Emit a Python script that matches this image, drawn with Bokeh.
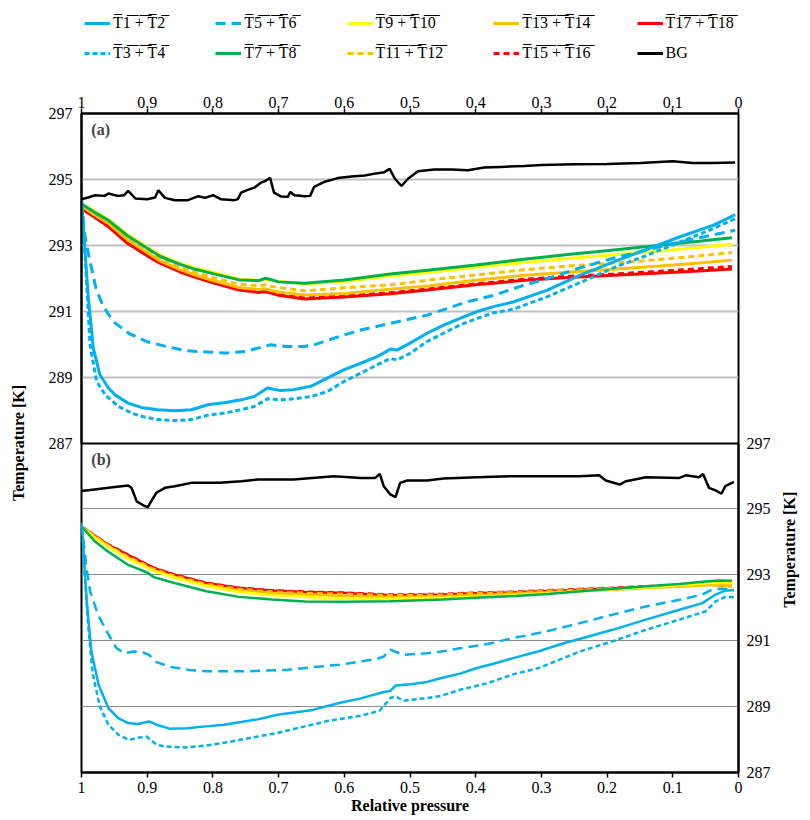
import math
from bokeh.plotting import figure
from bokeh.models import (Range1d, FixedTicker, NumeralTickFormatter, Legend, LegendItem,
                          Label, LinearAxis, Grid, CustomJSTickFormatter)
from bokeh.layouts import column
from bokeh.embed import file_html
from bokeh.resources import INLINE

# ---------------- data ----------------
X_TICKS = [1.0, 0.9, 0.8, 0.7, 0.6, 0.5, 0.4, 0.3, 0.2, 0.1, 0.0]
Y_TICKS = [287, 289, 291, 293, 295, 297]
SERIES = ["T1 + T2", "T3 + T4", "T5 + T6", "T7 + T8", "T9 + T10",
          "T11 + T12", "T13 + T14", "T15 + T16", "T17 + T18", "BG"]
PANELS = ["(a)", "(b)"]
Y_TITLE = "Temperature [K]"
X_TITLE = "Relative pressure"

# panel (a)
A_T12_X = [1.0, 0.997, 0.990, 0.982, 0.972, 0.959, 0.949, 0.929, 0.909, 0.884, 0.858, 0.833, 0.808, 0.783,
           0.757, 0.737, 0.717, 0.697, 0.677, 0.651, 0.626, 0.601, 0.575, 0.550, 0.530, 0.520, 0.500, 0.474,
           0.449, 0.424, 0.398, 0.373, 0.343, 0.291, 0.240, 0.190, 0.139, 0.089, 0.038, 0.005]
A_T12_Y = [294.37, 293.51, 291.49, 289.88, 289.07, 288.67, 288.46, 288.21, 288.08, 288.01, 287.98, 288.01,
           288.16, 288.22, 288.31, 288.41, 288.67, 288.59, 288.62, 288.72, 288.97, 289.22, 289.42, 289.62,
           289.85, 289.82, 290.03, 290.33, 290.58, 290.78, 290.99, 291.14, 291.28, 291.64, 292.10, 292.50,
           292.88, 293.26, 293.61, 293.93]
A_T34_X = [1.0, 0.994, 0.987, 0.977, 0.964, 0.944, 0.924, 0.909, 0.884, 0.858, 0.833, 0.808, 0.783, 0.757,
           0.737, 0.717, 0.697, 0.677, 0.651, 0.626, 0.601, 0.575, 0.550, 0.530, 0.520, 0.500, 0.474, 0.449,
           0.424, 0.398, 0.373, 0.343, 0.291, 0.240, 0.190, 0.139, 0.089, 0.038, 0.005]
A_T34_Y = [294.37, 292.50, 289.98, 288.87, 288.46, 288.11, 287.91, 287.81, 287.71, 287.68, 287.71, 287.84,
           287.91, 288.01, 288.11, 288.34, 288.31, 288.34, 288.41, 288.56, 288.86, 289.12, 289.37, 289.57,
           289.52, 289.72, 290.08, 290.33, 290.58, 290.78, 290.95, 291.06, 291.44, 291.88, 292.32, 292.70,
           293.10, 293.51, 293.81]
A_T56_X = [1.0, 0.995, 0.987, 0.978, 0.968, 0.952, 0.928, 0.901, 0.871, 0.841, 0.808, 0.780, 0.750, 0.722,
           0.712, 0.689, 0.661, 0.646, 0.616, 0.575, 0.530, 0.474, 0.444, 0.414, 0.373, 0.328, 0.291, 0.242,
           0.192, 0.141, 0.090, 0.040, 0.005]
A_T56_Y = [294.37, 293.30, 292.50, 291.70, 291.19, 290.69, 290.33, 290.08, 289.93, 289.80, 289.76, 289.73,
           289.78, 289.93, 289.98, 289.93, 289.93, 289.98, 290.18, 290.43, 290.63, 290.88, 291.08, 291.28,
           291.48, 291.78, 291.99, 292.31, 292.60, 292.85, 293.10, 293.31, 293.46]
A_WARM_X = [1.00, 0.98, 0.96, 0.93, 0.90, 0.88, 0.85, 0.83, 0.80, 0.76, 0.73, 0.72, 0.71, 0.70, 0.66,
            0.60, 0.53, 0.47, 0.40, 0.33, 0.26, 0.19, 0.12, 0.06, 0.01]
A_T78_Y = [294.25, 294.00, 293.77, 293.29, 292.91, 292.66, 292.42, 292.29, 292.14, 291.95, 291.93, 292.00,
           291.95, 291.89, 291.85, 291.95, 292.13, 292.25, 292.40, 292.57, 292.72, 292.86, 293.00, 293.12, 293.23]
A_T910_Y = [294.27, 294.03, 293.80, 293.33, 292.95, 292.70, 292.45, 292.33, 292.18, 291.98, 291.93, 291.96,
            291.93, 291.90, 291.83, 291.90, 292.07, 292.18, 292.33, 292.47, 292.60, 292.71, 292.83, 292.93, 293.03]
A_T1112_Y = [294.22, 293.95, 293.72, 293.22, 292.84, 292.58, 292.33, 292.20, 292.02, 291.82, 291.77, 291.80,
             291.75, 291.72, 291.62, 291.71, 291.80, 291.95, 292.10, 292.25, 292.37, 292.46, 292.57, 292.68, 292.78]
A_T1314_Y = [294.20, 293.92, 293.68, 293.17, 292.78, 292.52, 292.26, 292.12, 291.93, 291.72, 291.66, 291.68,
             291.62, 291.58, 291.49, 291.54, 291.67, 291.77, 291.94, 292.08, 292.18, 292.27, 292.37, 292.46, 292.55]
A_T1516_Y = [294.13, 293.88, 293.62, 293.10, 292.72, 292.48, 292.22, 292.08, 291.90, 291.68, 291.60, 291.62,
             291.57, 291.51, 291.40, 291.46, 291.56, 291.68, 291.83, 291.96, 292.06, 292.13, 292.21, 292.29, 292.36]
A_T1718_Y = [294.11, 293.85, 293.58, 293.06, 292.68, 292.45, 292.19, 292.05, 291.86, 291.64, 291.57, 291.59,
             291.54, 291.48, 291.37, 291.43, 291.53, 291.65, 291.80, 291.93, 292.02, 292.09, 292.16, 292.22, 292.28]
A_BG_X = [1.0, 0.990, 0.979, 0.965, 0.959, 0.945, 0.935, 0.929, 0.918, 0.900, 0.888, 0.883, 0.873, 0.858,
          0.838, 0.822, 0.812, 0.800, 0.788, 0.767, 0.762, 0.757, 0.747, 0.737, 0.727, 0.720, 0.713, 0.707,
          0.696, 0.686, 0.682, 0.676, 0.660, 0.652, 0.646, 0.631, 0.610, 0.589, 0.569, 0.549, 0.539, 0.531,
          0.523, 0.513, 0.503, 0.488, 0.463, 0.437, 0.412, 0.387, 0.362, 0.326, 0.300, 0.250, 0.200, 0.150,
          0.100, 0.070, 0.040, 0.005]
A_BG_Y = [294.40, 294.45, 294.52, 294.50, 294.57, 294.50, 294.52, 294.65, 294.42, 294.40, 294.45, 294.67,
          294.44, 294.37, 294.37, 294.49, 294.44, 294.52, 294.40, 294.37, 294.40, 294.60, 294.68, 294.75,
          294.90, 294.95, 295.05, 294.60, 294.48, 294.47, 294.62, 294.52, 294.49, 294.50, 294.77, 294.92,
          295.04, 295.09, 295.12, 295.19, 295.22, 295.32, 295.02, 294.80, 295.02, 295.25, 295.30, 295.30,
          295.28, 295.36, 295.38, 295.41, 295.44, 295.46, 295.47, 295.50, 295.55, 295.50, 295.50, 295.51]

# panel (b)
B_T12_X = [1.0, 0.997, 0.992, 0.985, 0.974, 0.959, 0.944, 0.929, 0.914, 0.901, 0.897, 0.886, 0.866, 0.840,
           0.811, 0.783, 0.757, 0.730, 0.702, 0.648, 0.608, 0.575, 0.546, 0.530, 0.522, 0.499, 0.474, 0.452,
           0.424, 0.398, 0.373, 0.343, 0.304, 0.265, 0.242, 0.192, 0.141, 0.090, 0.055, 0.035, 0.020, 0.007]
B_T12_Y = [294.58, 293.72, 292.19, 290.67, 289.66, 288.95, 288.65, 288.50, 288.47, 288.53, 288.55, 288.45,
           288.33, 288.34, 288.40, 288.45, 288.53, 288.62, 288.75, 288.90, 289.11, 289.25, 289.41, 289.48,
           289.64, 289.68, 289.75, 289.87, 290.00, 290.17, 290.30, 290.47, 290.68, 290.93, 291.05, 291.33,
           291.64, 291.94, 292.14, 292.40, 292.52, 292.53]
B_T34_X = [1.0, 0.995, 0.990, 0.983, 0.972, 0.959, 0.944, 0.928, 0.915, 0.901, 0.886, 0.874, 0.842, 0.810,
           0.772, 0.740, 0.702, 0.660, 0.624, 0.575, 0.546, 0.530, 0.522, 0.510, 0.474, 0.452, 0.424, 0.382,
           0.343, 0.304, 0.242, 0.192, 0.141, 0.090, 0.050, 0.035, 0.020, 0.007]
B_T34_Y = [294.58, 293.00, 291.50, 290.00, 289.00, 288.45, 288.15, 287.99, 288.05, 288.09, 287.85, 287.79,
           287.76, 287.82, 287.94, 288.06, 288.20, 288.40, 288.57, 288.72, 288.88, 289.26, 289.31, 289.18,
           289.26, 289.33, 289.51, 289.71, 289.98, 290.17, 290.67, 290.98, 291.33, 291.64, 291.89, 292.19,
           292.33, 292.33]
B_T56_X = [1.0, 0.993, 0.987, 0.975, 0.963, 0.947, 0.935, 0.921, 0.907, 0.897, 0.886, 0.866, 0.836, 0.810,
           0.749, 0.686, 0.646, 0.608, 0.550, 0.540, 0.530, 0.510, 0.474, 0.452, 0.424, 0.382, 0.343, 0.293,
           0.242, 0.192, 0.141, 0.090, 0.055, 0.040, 0.025, 0.007]
B_T56_Y = [294.58, 293.30, 292.50, 291.80, 291.33, 290.78, 290.62, 290.67, 290.65, 290.57, 290.35, 290.21,
           290.11, 290.07, 290.07, 290.12, 290.20, 290.27, 290.45, 290.52, 290.73, 290.57, 290.62, 290.67,
           290.77, 290.90, 291.08, 291.28, 291.53, 291.79, 292.04, 292.24, 292.40, 292.55, 292.58, 292.56]
B_WARM_X = [1.00, 0.98, 0.96, 0.93, 0.90, 0.89, 0.86, 0.81, 0.76, 0.71, 0.66, 0.60, 0.53, 0.45, 0.40,
            0.34, 0.29, 0.24, 0.19, 0.14, 0.09, 0.05, 0.03, 0.01]
B_T78_Y = [294.47, 294.02, 293.71, 293.31, 293.07, 292.93, 292.76, 292.50, 292.33, 292.25, 292.19, 292.18,
           292.20, 292.25, 292.30, 292.36, 292.42, 292.50, 292.58, 292.65, 292.72, 292.80, 292.83, 292.82]
B_T910_Y = [294.47, 294.12, 293.87, 293.50, 293.22, 293.12, 292.92, 292.66, 292.48, 292.38, 292.33, 292.28,
            292.27, 292.30, 292.33, 292.38, 292.44, 292.50, 292.56, 292.62, 292.68, 292.74, 292.76, 292.74]
B_T1112_Y = [294.47, 294.18, 293.90, 293.56, 293.28, 293.18, 292.98, 292.72, 292.57, 292.49, 292.45, 292.42,
             292.38, 292.40, 292.44, 292.47, 292.51, 292.55, 292.59, 292.63, 292.67, 292.71, 292.72, 292.70]
B_T1314_Y = [294.47, 294.16, 293.88, 293.52, 293.22, 293.14, 292.94, 292.68, 292.52, 292.44, 292.40, 292.36,
             292.33, 292.35, 292.39, 292.43, 292.47, 292.51, 292.55, 292.60, 292.64, 292.68, 292.68, 292.66]
B_T1516_Y = [294.47, 294.20, 293.93, 293.62, 293.32, 293.22, 293.02, 292.76, 292.61, 292.53, 292.49, 292.46,
             292.40, 292.42, 292.46, 292.49, 292.53, 292.57, 292.61, 292.65, 292.69, 292.73, 292.70, 292.68]
B_T1718_Y = [294.47, 294.19, 293.92, 293.61, 293.31, 293.21, 293.01, 292.75, 292.60, 292.52, 292.48, 292.45,
             292.38, 292.40, 292.44, 292.47, 292.51, 292.55, 292.59, 292.63, 292.67, 292.72, 292.68, 292.65]
B_BG_X = [1.0, 0.980, 0.959, 0.929, 0.924, 0.916, 0.906, 0.899, 0.894, 0.886, 0.873, 0.858, 0.833, 0.790,
          0.757, 0.732, 0.700, 0.677, 0.616, 0.575, 0.553, 0.546, 0.540, 0.530, 0.522, 0.515, 0.505, 0.474,
          0.449, 0.398, 0.348, 0.293, 0.242, 0.212, 0.202, 0.181, 0.171, 0.141, 0.090, 0.080, 0.060, 0.054,
          0.045, 0.035, 0.026, 0.020, 0.007]
B_BG_Y = [295.54, 295.59, 295.64, 295.71, 295.64, 295.23, 295.11, 295.05, 295.23, 295.49, 295.64, 295.69,
          295.79, 295.79, 295.84, 295.89, 295.89, 295.89, 295.99, 295.94, 295.94, 296.06, 295.69, 295.44,
          295.36, 295.79, 295.86, 295.86, 295.92, 295.96, 295.99, 295.99, 295.99, 296.02, 295.86, 295.74,
          295.84, 295.96, 295.94, 296.02, 295.96, 296.06, 295.64, 295.56, 295.46, 295.69, 295.82]

PANEL_A = {
    "T1 + T2": (A_T12_X, A_T12_Y), "T3 + T4": (A_T34_X, A_T34_Y), "T5 + T6": (A_T56_X, A_T56_Y),
    "T7 + T8": (A_WARM_X, A_T78_Y), "T9 + T10": (A_WARM_X, A_T910_Y), "T11 + T12": (A_WARM_X, A_T1112_Y),
    "T13 + T14": (A_WARM_X, A_T1314_Y), "T15 + T16": (A_WARM_X, A_T1516_Y),
    "T17 + T18": (A_WARM_X, A_T1718_Y), "BG": (A_BG_X, A_BG_Y),
}
PANEL_B = {
    "T1 + T2": (B_T12_X, B_T12_Y), "T3 + T4": (B_T34_X, B_T34_Y), "T5 + T6": (B_T56_X, B_T56_Y),
    "T7 + T8": (B_WARM_X, B_T78_Y), "T9 + T10": (B_WARM_X, B_T910_Y), "T11 + T12": (B_WARM_X, B_T1112_Y),
    "T13 + T14": (B_WARM_X, B_T1314_Y), "T15 + T16": (B_WARM_X, B_T1516_Y),
    "T17 + T18": (B_WARM_X, B_T1718_Y), "BG": (B_BG_X, B_BG_Y),
}

# ---------------- styles ----------------
FONT = "Liberation Serif"
BLUE, GREEN, YELLOW, ORANGE, RED = "#00B0F0", "#00B050", "#FFFF00", "#FFC000", "#FF0000"
STYLE = {
    "T1 + T2": (BLUE, "solid"), "T3 + T4": (BLUE, "5 3"), "T5 + T6": (BLUE, "10 6"),
    "T7 + T8": (GREEN, "solid"), "T9 + T10": (YELLOW, "solid"), "T11 + T12": (ORANGE, "6 4"),
    "T13 + T14": (ORANGE, "solid"), "T15 + T16": (RED, "6 4"), "T17 + T18": (RED, "solid"),
    "BG": ("black", "solid"),
}
DRAW_ORDER = list(reversed(SERIES))

W = 809
LEFT, RIGHT = 81, 67
LEG_H = 70
TOP_B, FRAME_H, BOT_B = 43, 659, 47
MAIN_H = TOP_B + FRAME_H + BOT_B

# ---------------- legend strip ----------------
lf = figure(width=W, height=LEG_H, x_range=Range1d(0, 1), y_range=Range1d(0, 1),
            x_axis_location=None, y_axis_location=None,
            output_backend="svg", toolbar_location=None,
            min_border_left=LEFT, min_border_right=0, min_border_top=0, min_border_bottom=0)
lf.grid.visible = False
lf.outline_line_color = None
lf.background_fill_color = "white"
lf.border_fill_color = "white"


def overline(s):
    if s == "BG":
        return s
    return "".join(ch + "\u0305" for ch in s)


PADS = ["\u00a0" * 10, "\u00a0" * 10, "\u00a0" * 10, "\u00a0" * 9, ""]
leg_rend = {}
for name in SERIES:
    color, dash = STYLE[name]
    xs, ys = PANEL_A[name]   # same series; outside this strip's y-range, only the key shows
    leg_rend[name] = lf.line(xs, ys, line_color=color, line_width=3, line_dash=dash)
order = [i for i in range(0, 10, 2)] + [i for i in range(1, 10, 2)]
items = []
for i in order:
    name = SERIES[i]
    lab = overline(name) + PADS[i // 2]
    items.append(LegendItem(label=lab, renderers=[leg_rend[name]]))
leg = Legend(items=items, orientation="horizontal", nrows=2, location=(3, 7),
             padding=0, margin=0, spacing=10, glyph_width=26, glyph_height=20,
             label_height=20, label_standoff=3, label_text_font=FONT,
             label_text_font_size="16px", label_text_color="black",
             border_line_color=None, background_fill_alpha=0)
lf.add_layout(leg)

# ---------------- main chart ----------------
p = figure(width=W, height=MAIN_H, x_range=Range1d(1, 0), y_range=Range1d(287, 307),
           output_backend="svg", toolbar_location=None,
           min_border_left=LEFT, min_border_right=RIGHT, min_border_top=TOP_B,
           min_border_bottom=BOT_B)
p.extra_y_ranges = {"a": Range1d(277, 297)}
p.outline_line_color = "black"
p.outline_line_width = 2
p.xgrid.visible = False
p.ygrid.visible = False
p.yaxis.visible = False
p.background_fill_color = "white"
p.border_fill_color = "white"


def style_axis(ax, label):
    ax.axis_label = label
    ax.axis_label_text_font = FONT
    ax.axis_label_text_font_size = "16px"
    ax.axis_label_text_font_style = "bold"
    ax.axis_label_text_color = "black"
    ax.major_label_text_font = FONT
    ax.major_label_text_font_size = "16px"
    ax.major_label_text_color = "black"
    ax.axis_line_color = "black"
    ax.axis_line_width = 2
    ax.minor_tick_line_color = None


def style_x(ax):
    ax.ticker = FixedTicker(ticks=X_TICKS)
    ax.formatter = NumeralTickFormatter(format="0.[0]")
    ax.major_tick_out = 5
    ax.major_tick_in = 0
    ax.major_tick_line_color = "black"
    ax.major_tick_line_width = 1.5


xb = p.xaxis[0]
style_axis(xb, X_TITLE)
style_x(xb)
xb.major_label_standoff = 4
xb.axis_label_standoff = 1

xt = LinearAxis()
style_axis(xt, None)
style_x(xt)
xt.major_label_standoff = 1
p.add_layout(xt, "above")


def style_y(ax, standoff, label_standoff):
    ax.ticker = FixedTicker(ticks=Y_TICKS)
    ax.major_tick_line_color = None
    ax.major_tick_out = 0
    ax.major_tick_in = 0
    ax.major_label_standoff = standoff
    ax.axis_label_standoff = label_standoff


# panel (a): left axis with its title (reads bottom-up)
ya = LinearAxis(y_range_name="a", bounds=(Y_TICKS[0], Y_TICKS[-1]))
style_axis(ya, Y_TITLE)
style_y(ya, 9, 19)
p.add_layout(ya, "left")

# panel (b): right axis with numbers, title as a rotated single label further out
yb = LinearAxis(bounds=(Y_TICKS[0], Y_TICKS[-1]))
style_axis(yb, None)
style_y(yb, 8, 0)
p.add_layout(yb, "right")

mid_b = (Y_TICKS[0] + Y_TICKS[-1]) / 2
yt = LinearAxis(ticker=FixedTicker(ticks=[mid_b]),
                formatter=CustomJSTickFormatter(args=dict(t=Y_TITLE), code="return t"))
yt.axis_line_color = None
yt.major_tick_line_color = None
yt.minor_tick_line_color = None
yt.major_tick_out = 0
yt.major_tick_in = 0
yt.major_label_standoff = 16
yt.major_label_orientation = math.pi / 2
yt.major_label_text_font = FONT
yt.major_label_text_font_size = "16px"
yt.major_label_text_font_style = "bold"
yt.major_label_text_color = "black"
p.add_layout(yt, "right")

INNER = Y_TICKS[1:-1]
p.add_layout(Grid(dimension=1, ticker=FixedTicker(ticks=INNER), y_range_name="a",
                  grid_line_color="#BFBFBF", grid_line_width=2))
p.add_layout(Grid(dimension=1, ticker=FixedTicker(ticks=INNER),
                  grid_line_color="#8C8C8C", grid_line_width=1))
p.add_layout(Grid(dimension=1, ticker=FixedTicker(ticks=[Y_TICKS[0]]), y_range_name="a",
                  grid_line_color="black", grid_line_width=2))

for data, rng, lw in ((PANEL_A, "a", 3), (PANEL_B, "default", 2.5)):
    for name in DRAW_ORDER:
        xs, ys = data[name]
        color, dash = STYLE[name]
        p.line(xs, ys, line_color=color, line_width=(lw if name != "BG" else 2.5),
               line_dash=dash, y_range_name=rng)

p.add_layout(Label(x=0.985, y=296.5, y_range_name="a", text=PANELS[0], text_font=FONT,
                   text_font_size="16px", text_font_style="bold", text_baseline="middle",
                   text_align="left"))
p.add_layout(Label(x=0.985, y=296.5, text=PANELS[1], text_font=FONT,
                   text_font_size="16px", text_font_style="bold", text_baseline="middle",
                   text_align="left"))

layout = column(lf, p, spacing=0)
open("out.html", "w").write(file_html(layout, INLINE))
